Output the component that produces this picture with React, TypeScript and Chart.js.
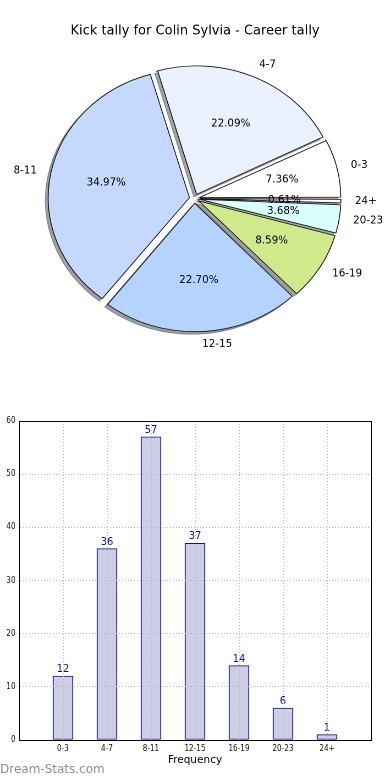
import { useEffect, useRef } from 'react';
import { Chart, registerables } from 'chart.js';

Chart.register(...registerables);

// ---------- data ----------
const categories = ['0-3', '4-7', '8-11', '12-15', '16-19', '20-23', '24+'];
const frequencies = [12, 36, 57, 37, 14, 6, 1];
const sliceColors = ['#ffffff', '#eaf1ff', '#c5d9ff', '#b4d4ff', '#cfe98b', '#daffff', '#ffffff'];
const yTickMin = 0;
const yTickMax = 60;
const yTickStep = 10;
const chartTitle = 'Kick tally for Colin Sylvia - Career tally';
const xAxisTitle = 'Frequency';
const watermark = 'Dream-Stats.com';

// ---------- styling constants ----------
const STRETCH = 1.1; // pie is elliptical (wider than tall)
const PIE_W = 355;
const PIE_H = 390;
const PIE_R = 128.4;
const EXPLODE = 4.7;
const SHADOW = 2.57;
const FONT = '"DejaVu Sans", sans-serif';
const SMALL_FONT = '"DejaVu Sans Condensed", "DejaVu Sans", sans-serif';

function shadowColor(hex: string) {
  const h = hex.replace('#', '');
  const r = parseInt(h.slice(0, 2), 16) * 0.3;
  const g = parseInt(h.slice(2, 4), 16) * 0.3;
  const b = parseInt(h.slice(4, 6), 16) * 0.3;
  return `rgba(${Math.round(r)},${Math.round(g)},${Math.round(b)},0.5)`;
}

function stretchedText(ctx: any, text: string, x: number, y: number, align: string) {
  ctx.save();
  ctx.translate(x, y);
  ctx.scale(1 / STRETCH, 1);
  ctx.textAlign = align;
  ctx.fillText(text, 0, 0);
  ctx.restore();
}

const pieDecor = {
  id: 'pieDecor',
  afterDatasetsUpdate(chart: any) {
    const meta = chart.getDatasetMeta(0);
    const off = (4 * EXPLODE) / 4;
    meta.data.forEach((arc: any) => {
      const fix = 1 - Math.sin(Math.min(Math.PI, arc.circumference || 0));
      arc.outerRadius = arc.outerRadius - off * fix;
    });
  },
  beforeDatasetsDraw(chart: any) {
    const ctx = chart.ctx;
    const meta = chart.getDatasetMeta(0);
    meta.data.forEach((arc: any) => {
      const saved = arc.options;
      const col = shadowColor(saved.backgroundColor);
      arc.options = { ...saved, backgroundColor: col, borderColor: col };
      ctx.save();
      ctx.translate(-SHADOW, SHADOW);
      arc.draw(ctx);
      ctx.restore();
      arc.options = saved;
    });
  },
  afterDatasetsDraw(chart: any) {
    const ctx = chart.ctx;
    const meta = chart.getDatasetMeta(0);
    const values: number[] = chart.data.datasets[0].data;
    const labels: string[] = chart.data.labels;
    const total = values.reduce((a, b) => a + b, 0);
    const R = meta.controller.outerRadius;
    ctx.save();
    ctx.fillStyle = '#000';
    ctx.textBaseline = 'middle';
    ctx.font = `10.3px ${FONT}`;
    meta.data.forEach((arc: any, i: number) => {
      const mid = (arc.startAngle + arc.endAngle) / 2;
      const cx = arc.x + Math.cos(mid) * EXPLODE;
      const cy = arc.y + Math.sin(mid) * EXPLODE;
      const lx = cx + Math.cos(mid) * R * 1.1;
      const ly = cy + Math.sin(mid) * R * 1.1;
      stretchedText(ctx, labels[i], lx, ly, Math.cos(mid) > 0 ? 'left' : 'right');
      const px = cx + Math.cos(mid) * R * 0.6;
      const py = cy + Math.sin(mid) * R * 0.6;
      stretchedText(ctx, ((values[i] / total) * 100).toFixed(2) + '%', px, py, 'center');
    });
    ctx.restore();
  },
  afterDraw(chart: any) {
    const ctx = chart.ctx;
    ctx.save();
    ctx.fillStyle = '#000';
    ctx.textBaseline = 'alphabetic';
    ctx.font = `13px ${FONT}`;
    stretchedText(ctx, chartTitle, 195 / STRETCH, 34.3, 'center');
    ctx.restore();
  },
};

const paddedLabels = ['', ...categories, ''];
const paddedValues: (number | null)[] = [null, ...frequencies, null];

const barDecor = {
  id: 'barDecor',
  afterDatasetsDraw(chart: any) {
    const ctx = chart.ctx;
    const meta = chart.getDatasetMeta(0);
    ctx.save();
    ctx.fillStyle = '#10108a';
    ctx.font = `11px ${SMALL_FONT}`;
    ctx.textAlign = 'center';
    ctx.textBaseline = 'alphabetic';
    meta.data.forEach((bar: any, i: number) => {
      const v = chart.data.datasets[0].data[i];
      if (v == null) return;
      ctx.fillText(String(v), bar.x, bar.y - 4);
    });
    ctx.restore();
  },
  afterDraw(chart: any) {
    const ctx = chart.ctx;
    const { left, top, right, bottom } = chart.chartArea;
    const a = (p: number) => Math.round(p - 0.5) + 0.5;
    ctx.save();
    ctx.strokeStyle = '#000';
    ctx.lineWidth = 1;
    ctx.strokeRect(a(left), a(top), a(right) - a(left), a(bottom) - a(top));
    ctx.fillStyle = '#8e8e8e';
    ctx.font = `12px ${FONT}`;
    ctx.textAlign = 'left';
    ctx.textBaseline = 'alphabetic';
    ctx.fillText(watermark, 0, 373);
    ctx.restore();
  },
};

export default function App() {
  const pieRef = useRef<HTMLCanvasElement>(null);
  const barRef = useRef<HTMLCanvasElement>(null);

  useEffect(() => {
    const pieLabels = [...categories].reverse();
    const pieValues = [...frequencies].reverse();
    const pieColors = [...sliceColors].reverse();

    const pie = new Chart(pieRef.current as HTMLCanvasElement, {
      type: 'pie',
      data: {
        labels: pieLabels,
        datasets: [
          {
            data: pieValues,
            backgroundColor: pieColors,
            borderColor: '#111111',
            borderWidth: 0.8,
            borderJoinStyle: 'miter',
            offset: 4 * EXPLODE,
            hoverOffset: 0,
            radius: PIE_R,
            rotation: 90,
          } as any,
        ],
      },
      options: {
        animation: false,
        responsive: false,
        devicePixelRatio: 2,
        events: [],
        rotation: 90,
        radius: PIE_R,
        layout: { padding: { left: 0, right: PIE_W - 2 * (194.5 / STRETCH), top: 2 * 198.6 - PIE_H, bottom: 0 } },
        plugins: { legend: { display: false }, tooltip: { enabled: false }, title: { display: false } },
      } as any,
      plugins: [pieDecor],
    });

    const gridColor = '#b8b8b8';
    const bar = new Chart(barRef.current as HTMLCanvasElement, {
      type: 'bar',
      data: {
        labels: paddedLabels,
        datasets: [
          {
            data: paddedValues,
            backgroundColor: '#cdcde6',
            borderColor: '#12128c',
            borderWidth: 1,
            borderSkipped: false,
            barThickness: 20,
          } as any,
        ],
      },
      options: {
        animation: false,
        responsive: false,
        events: [],
        layout: { padding: { top: 21, right: 19, left: 0, bottom: 0 } },
        plugins: { legend: { display: false }, tooltip: { enabled: false } },
        scales: {
          x: {
            type: 'category',
            offset: false,
            grid: { color: gridColor, lineWidth: 1, drawTicks: false, offset: false, z: 1 },
            border: { display: true, color: '#000', width: 1, dash: [1, 2], z: 1 },
            ticks: { autoSkip: false, maxRotation: 0, minRotation: 0, padding: 4, color: '#111', font: { family: SMALL_FONT, size: 8 } },
            title: { display: true, text: xAxisTitle, color: '#000', font: { family: FONT, size: 10.5 }, padding: { top: 0, bottom: 13.7 } },
            afterFit: (s: any) => { s.height = 40; },
          },
          y: {
            min: yTickMin,
            max: yTickMax,
            grid: { color: gridColor, lineWidth: 1, drawTicks: false, z: 1 },
            border: { display: true, color: '#000', width: 1, dash: [1, 2], z: 1 },
            ticks: { stepSize: yTickStep, padding: 3.5, color: '#111', font: { family: SMALL_FONT, size: 8 } },
            afterFit: (s: any) => { s.width = 19; },
          },
        },
      } as any,
      plugins: [barDecor],
    });

    return () => {
      pie.destroy();
      bar.destroy();
    };
  }, []);

  return (
    <div style={{ position: 'absolute', left: 0, top: 0, width: 390, height: 780, background: '#fff', overflow: 'hidden' }}>
      <div style={{ position: 'absolute', left: 0, top: 0, width: PIE_W, height: PIE_H, transform: `scaleX(${STRETCH})`, transformOrigin: '0 0' }}>
        <canvas ref={pieRef} width={PIE_W} height={PIE_H} style={{ display: 'block' }} />
      </div>
      <div style={{ position: 'absolute', left: 0, top: 400, width: 390, height: 380 }}>
        <canvas ref={barRef} width={390} height={380} style={{ display: 'block' }} />
      </div>
    </div>
  );
}
